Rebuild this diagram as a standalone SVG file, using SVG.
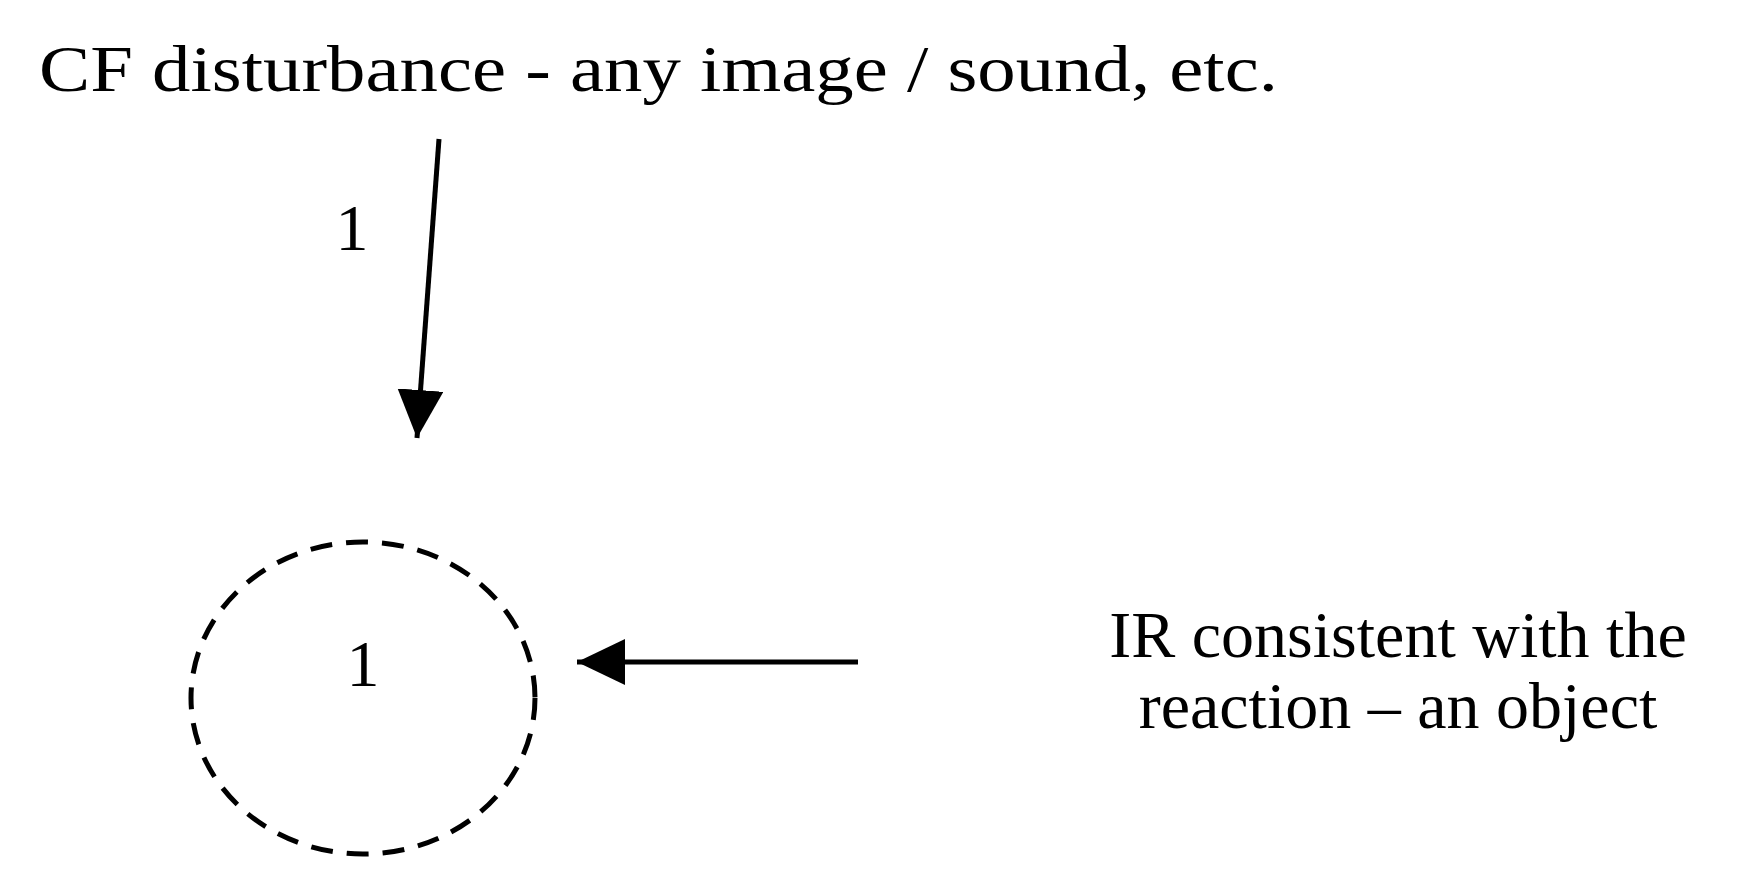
<svg xmlns="http://www.w3.org/2000/svg" width="1756" height="888" viewBox="0 0 1756 888">
<style>
text{font-family:"Liberation Serif","Times New Roman",serif;font-size:66px;fill:#000}
.c{stroke:#000;stroke-width:5;fill:none}
</style>
<defs>
<marker id="ah" markerUnits="userSpaceOnUse" markerWidth="50" markerHeight="46" refX="48" refY="23" orient="auto">
<path d="M0,0 L48,23 L0,46 Z" fill="#000"/>
</marker>
</defs>
<rect width="1756" height="888" fill="#fff"/>
<g id="title"><text x="39" y="91" textLength="1239" lengthAdjust="spacingAndGlyphs">CF disturbance - any image / sound, etc.</text></g>
<g id="node1">
<ellipse cx="363" cy="698" rx="172" ry="156" class="c" stroke-dasharray="22,14"/>
<text x="363" y="686" text-anchor="middle">1</text>
</g>
<g id="ir"><text x="1398" y="657" text-anchor="middle">IR consistent with the</text>
<text x="1398" y="728" text-anchor="middle">reaction – an object</text></g>
<g id="connectors">
<line x1="439" y1="139" x2="417" y2="438" class="c" marker-end="url(#ah)"/>
<text x="352" y="250" text-anchor="middle">1</text>
<line x1="858" y1="662" x2="577" y2="662" class="c" marker-end="url(#ah)"/>
</g>
</svg>
